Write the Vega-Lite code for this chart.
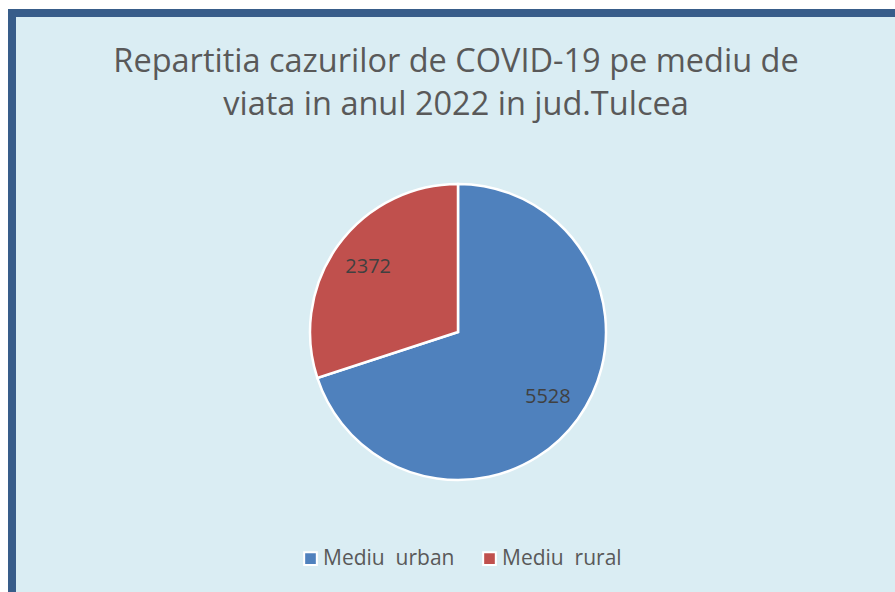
{
  "$schema": "https://vega.github.io/schema/vega-lite/v6.json",
  "width": 895,
  "height": 592,
  "autosize": {"type": "fit", "contains": "padding"},
  "padding": {"left": 12, "top": 13, "right": -5, "bottom": -5},
  "background": "white",
  "view": {"fill": "#DAEDF3", "stroke": "#385D8A", "strokeWidth": 8},
  "config": {
    "font": "Open Sans"
  },
  "title": {
    "text": ["Repartitia cazurilor de COVID-19 pe mediu de", "viata in anul 2022 in jud.Tulcea"],
    "anchor": "middle",
    "frame": "group",
    "orient": "top",
    "offset": -108,
    "fontSize": 32.5,
    "fontWeight": "normal",
    "color": "#595959",
    "lineHeight": 43,
    "font": "Open Sans"
  },
  "data": {
    "values": [
      {"mediu": "Mediu  urban", "cazuri": 5528},
      {"mediu": "Mediu  rural", "cazuri": 2372}
    ]
  },
  "encoding": {
    "theta": {"field": "cazuri", "type": "quantitative", "stack": true},
    "order": {"field": "cazuri", "type": "quantitative", "sort": "descending"}
  },
  "layer": [
    {
      "mark": {"type": "arc", "radius": 148, "stroke": "white", "strokeWidth": 2.5, "xOffset": 2, "yOffset": 27},
      "encoding": {
        "color": {
          "field": "mediu",
          "type": "nominal",
          "scale": {"domain": ["Mediu  urban", "Mediu  rural"], "range": ["#4F81BD", "#C0504D"]},
          "legend": {
            "title": null,
            "orient": "none",
            "direction": "horizontal",
            "legendX": 288,
            "legendY": 535,
            "symbolType": "square",
            "symbolSize": 160,
            "symbolStrokeColor": "white",
            "symbolStrokeWidth": 2,
            "symbolOpacity": 1,
            "labelFontSize": 21,
            "labelFont": "Open Sans",
            "labelColor": "#595959",
            "labelOffset": 2,
            "columnPadding": 24,
            "labelLimit": 300,
            "labelExpr": "replace(datum.label, '  ', '\u00a0 ')"
          }
        }
      }
    },
    {
      "mark": {"type": "text", "radius": 111, "fontSize": 20, "color": "#404040", "font": "Open Sans", "xOffset": 2, "yOffset": 27},
      "encoding": {
        "text": {"field": "cazuri", "type": "quantitative", "format": "d"}
      }
    }
  ]
}
